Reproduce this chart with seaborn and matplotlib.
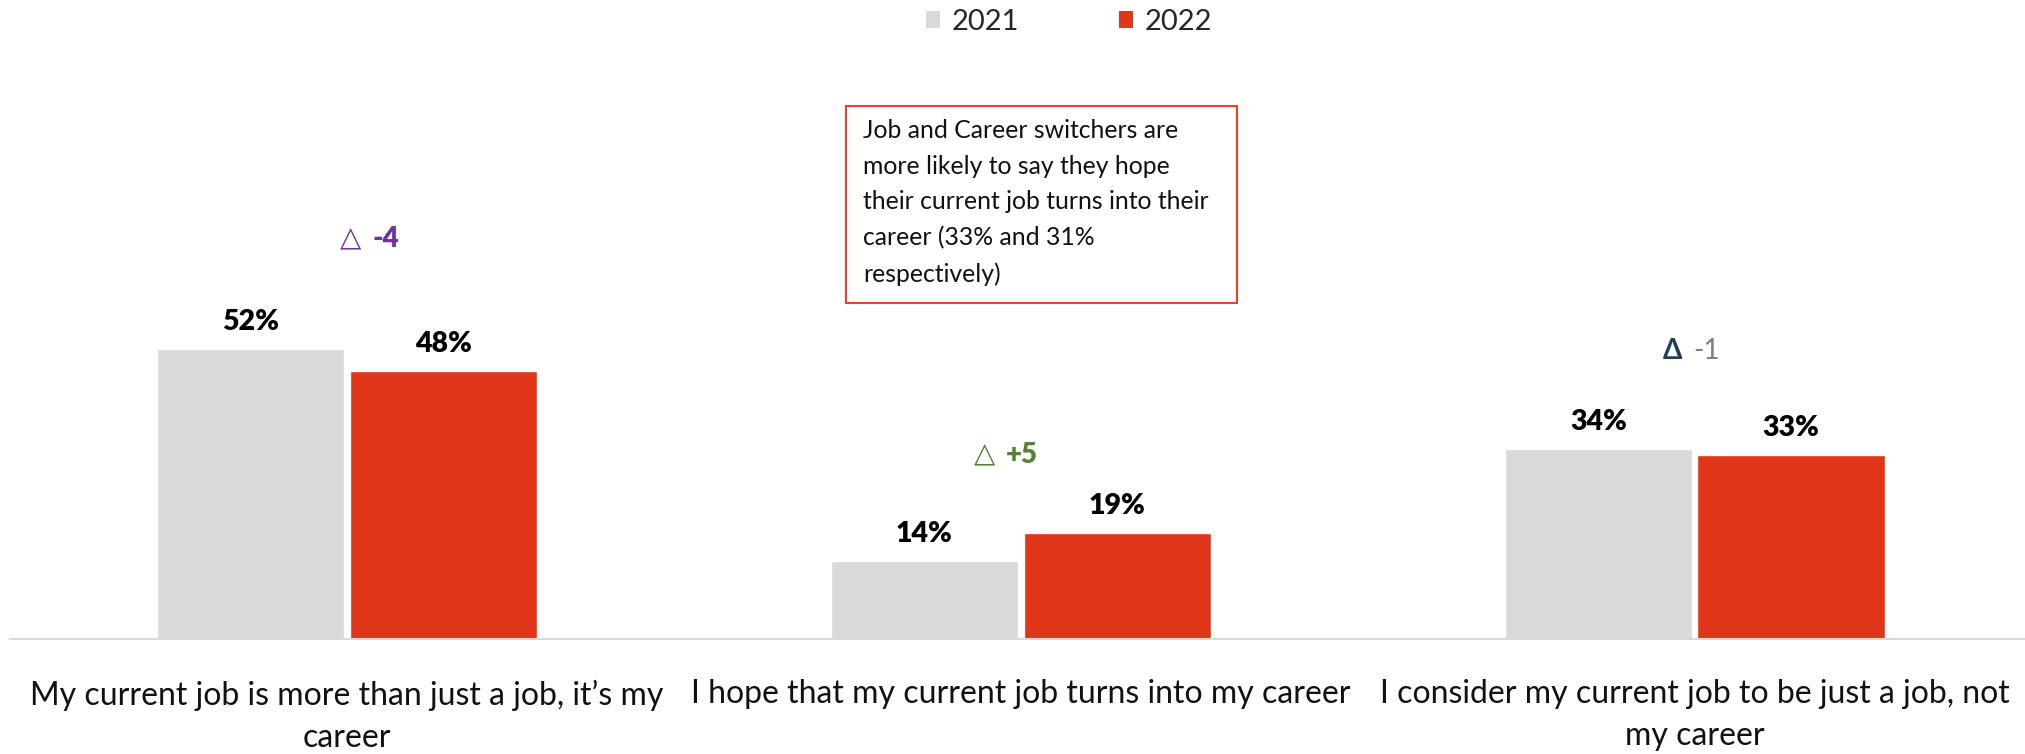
import matplotlib
matplotlib.use("Agg")
import matplotlib.pyplot as plt
import seaborn as sns
import pandas as pd
from matplotlib.patches import Patch, Rectangle

# Survey statements (wrapped as they appear under the bars)
categories = [
    "My current job is more than just a job, it\u2019s my\ncareer",
    "I hope that my current job turns into my career",
    "I consider my current job to be just a job, not\nmy career",
]
years = ["2021", "2022"]
values_2021 = [52, 14, 34]
values_2022 = [48, 19, 33]
note_text = ("Job and Career switchers are\nmore likely to say they hope\n"
             "their current job turns into their\ncareer (33% and 31%\nrespectively)")

palette = {"2021": "#D9D9D9", "2022": "#E03619"}

df = pd.DataFrame({
    "statement": categories * 2,
    "year": [years[0]] * 3 + [years[1]] * 3,
    "pct": values_2021 + values_2022,
})

sns.set_theme(style="white")
plt.rcParams["font.family"] = ["Lato", "DejaVu Sans"]

W, H = 2025, 754
fig = plt.figure(figsize=(W / 100, H / 100), dpi=100)
ax = fig.add_axes([10 / W, 115 / H, 1 - 10 / W, 639 / H])

sns.barplot(data=df, x="statement", y="pct", hue="year", palette=palette,
            width=0.572, gap=0.028, saturation=1, legend=False, ax=ax)

ax.set_xlim(-0.5, 2.49)
ax.set_ylim(0, 114.5)
ax.set_xlabel("")
ax.set_ylabel("")
ax.set_yticks([])
for side in ["top", "left", "right"]:
    ax.spines[side].set_visible(False)
ax.spines["bottom"].set_color("#D9D9D9")
ax.spines["bottom"].set_linewidth(1.5)
ax.tick_params(axis="x", length=0, pad=29, labelsize=23, colors="#111111")
for lbl in ax.get_xticklabels():
    lbl.set_linespacing(1.5)

# value labels on bars
for container, vals in zip(ax.containers, [values_2021, values_2022]):
    ax.bar_label(container, labels=[f"{v}%" for v in vals], padding=10,
                 fontsize=20.5, fontweight="heavy", color="black")

# legend at the top
handles = [Patch(facecolor=palette[y], edgecolor="none") for y in years]
fig.legend(handles=handles, labels=years, loc="center",
           bbox_to_anchor=(1069 / W, 1 - 22 / H), ncol=2, frameon=False,
           fontsize=21, handlelength=0.5, handleheight=0.5,
           handletextpad=0.4, columnspacing=3.4)

# call-out box
fig.add_artist(Rectangle((846 / W, 1 - 303 / H), (1237 - 846) / W, (303 - 106) / H,
                         transform=fig.transFigure, fill=False,
                         edgecolor="#E8412C", linewidth=1.5))
fig.text(863 / W, 1 - 119 / H, note_text, va="top", ha="left",
         fontsize=17.8, linespacing=1.66, color="#111111")

# year-over-year change markers
deltas = [b - a for a, b in zip(values_2021, values_2022)]
delta_pos = [(0.03, 71.7), (-0.03, 33.0), (-0.01, 51.6)]
sym_colors = ["#7030A0", "#548235", "#1F3F5A"]
num_colors = ["#7030A0", "#548235", "#7F7F7F"]
symbols = ["\u25B3", "\u25B3", "\u0394"]
sym_weights = ["normal", "normal", "bold"]
num_weights = ["heavy", "heavy", "normal"]
for i, d in enumerate(deltas):
    x, y = delta_pos[i]
    ax.annotate(symbols[i], (i + x, y), xytext=(-4, 0), textcoords="offset points",
                ha="right", va="center", fontsize=20, color=sym_colors[i],
                fontweight=sym_weights[i], family=["Lato", "DejaVu Sans"])
    ax.annotate(f"{d:+d}" if d > 0 else f"{d:d}", (i + x, y), xytext=(4, 0),
                textcoords="offset points", ha="left", va="center",
                fontsize=20, color=num_colors[i], fontweight=num_weights[i])

fig.savefig("out.png", dpi=100)
